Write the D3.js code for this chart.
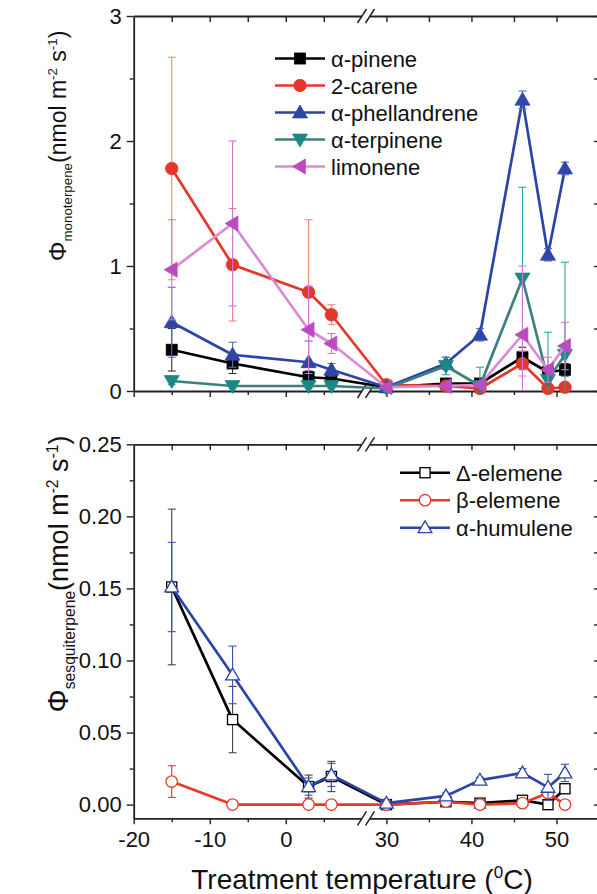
<!DOCTYPE html>
<html><head><meta charset="utf-8">
<script src="https://cdn.jsdelivr.net/npm/d3@7"></script>
<style>
body{margin:0;background:#fff}
svg{display:block}
text{font-family:"Liberation Sans",Arial,Helvetica,sans-serif;fill:#111}
</style>
</head><body>
<svg id="c" width="597" height="894"></svg>
<script>
// ---------- data ----------
const temps = [-15, -7, 3, 6, 30, 37, 41, 46, 49, 51];
const xMajorLeft = [-20, -10, 0];
const xMinorLeft = [-15, -5, 5];
const xMajorRight = [30, 40, 50];
const xMinorRight = [35, 45, 55];
const monoTicks = [0, 1, 2, 3];
const monoMinor = [0.5, 1.5, 2.5];
const sesqTicks = [0, 0.05, 0.10, 0.15, 0.20, 0.25];
const sesqMinor = [0.025, 0.075, 0.125, 0.175, 0.225];

const monoNames = ["α-pinene", "2-carene", "α-phellandrene", "α-terpinene", "limonene"];
const pinene       = [0.33, 0.22, 0.11, 0.10, 0.03, 0.06, 0.06, 0.27, 0.15, 0.17];
const pineneErr    = [0.17, 0.08, 0.05, 0.03, 0.01, 0.02, 0.02, 0.08, 0.05, 0.05];
const carene       = [1.78, 1.01, 0.79, 0.61, 0.05, 0.04, 0.02, 0.22, 0.02, 0.03];
const careneErr    = [0.89, 0.45, 0.58, 0.08, 0.02, 0.02, 0.02, 0.10, 0.02, 0.02];
const phellandrene = [0.55, 0.29, 0.23, 0.17, 0.03, 0.22, 0.45, 2.33, 1.09, 1.78];
const phellErr     = [0.28, 0.10, 0.17, 0.05, 0.01, 0.05, 0.05, 0.07, 0.05, 0.05];
const terpinene    = [0.08, 0.04, 0.04, 0.04, 0.02, 0.20, 0.04, 0.90, 0.09, 0.29];
const terpErr      = [0.03, 0.02, 0.02, 0.02, 0.01, 0.07, 0.15, 0.73, 0.38, 0.74];
const limonene     = [0.97, 1.34, 0.49, 0.38, 0.03, 0.04, 0.05, 0.45, 0.17, 0.36];
const limErr       = [0.40, 0.66, 0.35, 0.08, 0.01, 0.02, 0.02, 0.55, 0.10, 0.19];

const sesqNames = ["Δ-elemene", "β-elemene", "α-humulene"];
const deltaElemene = [0.151, 0.059, 0.0125, 0.0195, 0.000, 0.002, 0.001, 0.003, 0.000, 0.011];
const deltaErr     = [0.054, 0.023, 0.008, 0.0105, 0.001, 0.002, 0.002, 0.003, 0.001, 0.003];
const betaElemene  = [0.016, 0.000, 0.000, 0.000, 0.000, 0.002, 0.000, 0.001, 0.008, 0.000];
const betaErr      = [0.011, 0.000, 0.000, 0.000, 0.000, 0.001, 0.002, 0.003, 0.002, 0.000];
const humulene     = [0.151, 0.090, 0.0125, 0.0206, 0.001, 0.006, 0.017, 0.022, 0.012, 0.022];
const humErr       = [0.031, 0.020, 0.006, 0.008, 0.001, 0.002, 0.002, 0.003, 0.009, 0.006];

// ---------- style ----------
const monoStyle = [
  {line:"#000000", mark:"#000000", err:"#333333", shape:"square"},
  {line:"#e4382c", mark:"#e5362a", err:"#f0877e", shape:"circle"},
  {line:"#2c44a8", mark:"#2e46a8", err:"#5a6cc0", shape:"up"},
  {line:"#3d817c", mark:"#1a8983", err:"#2aa7a2", shape:"down"},
  {line:"#dc8ad8", mark:"#b94cbf", err:"#d276d6", shape:"left"}
];
const sesqStyle = [
  {line:"#000000", mark:"#000000", err:"#444444", shape:"square"},
  {line:"#e8392b", mark:"#e8392b", err:"#e8392b", shape:"circle"},
  {line:"#2c44a8", mark:"#2c44a8", err:"#3b52b0", shape:"up"}
];

const svg = d3.select("#c");
const PL = 133.7, PR = 599, BRK = 366;
const xL = d3.scaleLinear().domain([-20, 10.55]).range([PL, BRK]);
const xR = d3.scaleLinear().domain([27.6, 55]).range([BRK, PR]);
const x = v => v < 20 ? xL(v) : xR(v);
const yTop = d3.scaleLinear().domain([0, 3]).range([391, 16]);
const yBot = d3.scaleLinear().domain([-0.0095, 0.25]).range([818.3, 444.3]);
const hyphenInt = d => String(Math.round(d)).replace("\u2212","-");

function styleAxis(g){
  g.selectAll("path.domain").attr("stroke","#222").attr("stroke-width",1.8);
  g.selectAll(".tick line").attr("stroke","#222").attr("stroke-width",1.4);
  g.selectAll(".tick text").attr("font-size",22).attr("fill","#111")
    .attr("font-family",'"Liberation Sans",Arial,sans-serif');
}

function frame(y, major, minor, fmt, showX){
  const [yb, yt] = y.range();
  const g = svg.append("g");
  g.append("g").attr("transform",`translate(${PL},0)`)
    .call(d3.axisLeft(y).tickValues(major).tickSize(7).tickSizeOuter(0).tickPadding(5).tickFormat(fmt)).call(styleAxis);
  g.append("g").attr("transform",`translate(${PL},0)`)
    .call(d3.axisLeft(y).tickValues(minor).tickSize(4).tickFormat("")).call(styleAxis)
    .select("path.domain").remove();
  g.append("g").attr("transform",`translate(${PR},0)`)
    .call(d3.axisLeft(y).tickValues(major.concat(minor)).tickSize(5).tickSizeOuter(0).tickFormat("")).call(styleAxis);
  [[xL, xMajorLeft, xMinorLeft],[xR, xMajorRight, xMinorRight]].forEach(([sc, maj, mn]) => {
    g.append("g").attr("transform",`translate(0,${yb})`)
      .call(d3.axisBottom(sc).tickValues(maj).tickSize(6).tickSizeOuter(0).tickPadding(7)
        .tickFormat(showX ? hyphenInt : "")).call(styleAxis);
    g.append("g").attr("transform",`translate(0,${yb})`)
      .call(d3.axisBottom(sc).tickValues(mn.filter(v=>sc(v)<=PR)).tickSize(4).tickFormat("")).call(styleAxis)
      .select("path.domain").remove();
    g.append("g").attr("transform",`translate(0,${yt})`)
      .call(d3.axisTop(sc).tickValues(maj.concat(mn).filter(v=>sc(v)<=PR && sc(v)>PL+1)).tickSize(-6).tickSizeOuter(0).tickFormat("")).call(styleAxis);
  });
  [yb, yt].forEach(yy => {
    g.append("rect").attr("x", BRK-4).attr("y", yy-3).attr("width", 8).attr("height", 6).attr("fill","#fff");
    [-4, 4].forEach(dx => {
      g.append("line").attr("x1", BRK+dx-4.5).attr("y1", yy+7).attr("x2", BRK+dx+4.5).attr("y2", yy-7)
        .attr("stroke","#222").attr("stroke-width",1.5);
    });
  });
}

function marker(sel, shape, cx, cy, s, fill, stroke, sw){
  let el;
  if (shape === "circle") {
    el = sel.append("circle").attr("cx",cx).attr("cy",cy).attr("r",s*0.52);
  } else if (shape === "square") {
    el = sel.append("rect").attr("x",cx-s*0.46).attr("y",cy-s*0.46).attr("width",s*0.92).attr("height",s*0.92);
  } else {
    const w = s*1.25, h = s*1.0;
    let pts;
    if (shape === "up") pts = [[cx,cy-h*0.62],[cx+w/2,cy+h*0.45],[cx-w/2,cy+h*0.45]];
    else if (shape === "down") pts = [[cx,cy+h*0.62],[cx+w/2,cy-h*0.45],[cx-w/2,cy-h*0.45]];
    else pts = [[cx-h*0.62,cy],[cx+h*0.45,cy-w/2],[cx+h*0.45,cy+w/2]];
    el = sel.append("polygon").attr("points", pts.map(p=>p.join(",")).join(" "));
  }
  el.attr("fill", fill).attr("stroke", stroke).attr("stroke-width", sw);
}

function drawSeries(y, vals, errs, st, filled){
  const g = svg.append("g");
  const line = d3.line().x((d,i)=>x(temps[i])).y(d=>y(d));
  g.append("path").attr("d", line(vals)).attr("fill","none")
    .attr("stroke", st.line).attr("stroke-width", 2.7).attr("stroke-linejoin","round");
  vals.forEach((v,i)=>{
    const e = errs[i]; if (!e) return;
    const cx = x(temps[i]);
    const y1 = y(v+e), y2 = y(Math.max(v-e, y.domain()[0]));
    g.append("line").attr("x1",cx).attr("x2",cx).attr("y1",y1).attr("y2",y2)
      .attr("stroke",st.err).attr("stroke-width",1.1);
    [y(v+e), v-e >= y.domain()[0] ? y(v-e) : null].forEach(yy=>{
      if (yy===null) return;
      g.append("line").attr("x1",cx-4).attr("x2",cx+4).attr("y1",yy).attr("y2",yy)
        .attr("stroke",st.err).attr("stroke-width",1.1);
    });
  });
  vals.forEach((v,i)=>{
    if (filled) marker(g, st.shape, x(temps[i]), y(v), 12, st.mark, st.mark, 0.8);
    else marker(g, st.shape, x(temps[i]), y(v), 11, "#fff", st.mark, 1.3);
  });
}

// ---------- top panel ----------
frame(yTop, monoTicks, monoMinor, d3.format("d"), false);
const monoData = [[pinene,pineneErr],[carene,careneErr],[phellandrene,phellErr],[terpinene,terpErr],[limonene,limErr]];
monoData.forEach((d,k)=>drawSeries(yTop, d[0], d[1], monoStyle[k], true));

// ---------- bottom panel ----------
frame(yBot, sesqTicks, sesqMinor, d3.format(".2f"), true);
const sesqData = [[deltaElemene,deltaErr],[betaElemene,betaErr],[humulene,humErr]];
sesqData.forEach((d,k)=>drawSeries(yBot, d[0], d[1], sesqStyle[k], false));

// ---------- legends ----------
function legend(names, styles, x0, y0, step, filled){
  const g = svg.append("g");
  names.forEach((n,i)=>{
    const yy = y0 + i*step;
    g.append("line").attr("x1",x0).attr("x2",x0+50).attr("y1",yy).attr("y2",yy)
      .attr("stroke",styles[i].line).attr("stroke-width",2.6);
    if (filled) marker(g, styles[i].shape, x0+25, yy, 12, styles[i].mark, styles[i].mark, 0.8);
    else marker(g, styles[i].shape, x0+25, yy, 11, "#fff", styles[i].mark, 1.3);
    g.append("text").attr("x",x0+56).attr("y",yy+8).attr("font-size",22).text(n);
  });
}
legend(monoNames, monoStyle, 275, 58.5, 27, true);
legend(sesqNames, sesqStyle, 400, 472.7, 27.5, false);

// ---------- axis titles ----------
svg.append("text").attr("x", 362).attr("y", 889).attr("text-anchor","middle").attr("font-size",28)
  .call(t=>{
    t.append("tspan").text("Treatment temperature (");
    t.append("tspan").attr("font-size",17).attr("dy",-11).text("0");
    t.append("tspan").attr("dy",11).text("C)");
  });

function yTitle(cx, cy, sub, fs){
  const sm = fs*0.58;
  const t = svg.append("text").attr("transform",`translate(${cx},${cy}) rotate(-90)`)
    .attr("text-anchor","middle").attr("font-size",fs);
  t.append("tspan").attr("font-size",fs*1.08).text("Φ");
  t.append("tspan").attr("font-size",sm).attr("dy",fs*0.27).text(sub);
  t.append("tspan").attr("dy",-fs*0.27).text("(nmol m");
  t.append("tspan").attr("font-size",sm).attr("dy",-fs*0.38).text("-2");
  t.append("tspan").attr("dy",fs*0.38).text(" s");
  t.append("tspan").attr("font-size",sm).attr("dy",-fs*0.38).text("-1");
  t.append("tspan").attr("dy",fs*0.38).text(")");
}
yTitle(66, 146, "monoterpene", 23);
yTitle(68, 574, "sesquiterpene", 27);
</script>
</body></html>
